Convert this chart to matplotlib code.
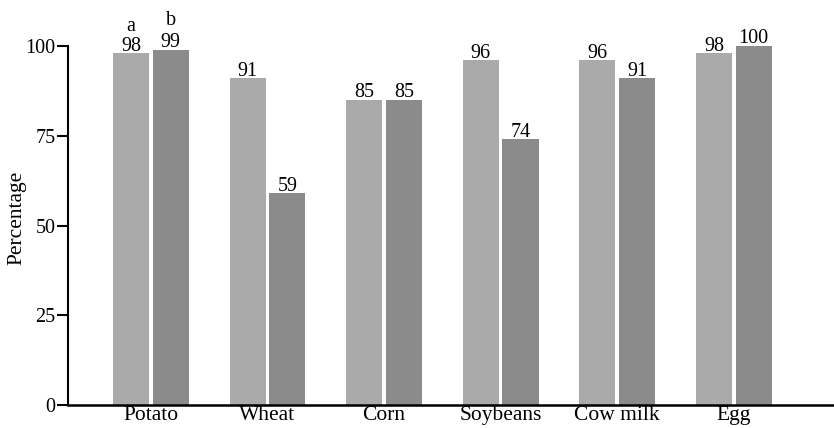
import matplotlib
matplotlib.use("Agg")
import matplotlib.pyplot as plt
import numpy as np

categories = ["Potato", "Wheat", "Corn", "Soybeans", "Cow milk", "Egg"]
series_a = [98, 91, 85, 96, 96, 98]
series_b = [99, 59, 85, 74, 91, 100]
series_tags = ["a", "b"]
y_ticks = [0, 25, 50, 75, 100]

plt.rcParams["font.family"] = ["Liberation Serif", "DejaVu Serif"]

fig = plt.figure(figsize=(8.34, 4.28), dpi=100)
ax = fig.add_axes([68 / 834, 1 - 405 / 428, 1 - 68 / 834, (405 - 46) / 428])

x = np.arange(len(categories))
w = 0.31
off = 0.17
light, dark = "#aaaaaa", "#8b8b8b"

bars_a = ax.bar(x - off, series_a, width=w, color=light, clip_on=False, zorder=2)
bars_b = ax.bar(x + off, series_b, width=w, color=dark, clip_on=False, zorder=2)

for bars, vals in ((bars_a, series_a), (bars_b, series_b)):
    for b, v in zip(bars, vals):
        ax.text(b.get_x() + b.get_width() / 2, v + 0.7, f"{v}",
                ha="center", va="baseline", fontsize=14.5)

# series tags above the first group
ax.text(bars_a[0].get_x() + w / 2, series_a[0] + 6.2, series_tags[0],
        ha="center", va="baseline", fontsize=14.5)
ax.text(bars_b[0].get_x() + w / 2, series_b[0] + 6.9, series_tags[1],
        ha="center", va="baseline", fontsize=14.5)

ax.set_xlim(-0.712, 5.86)
ax.set_ylim(0, 100)
ax.set_yticks(y_ticks)
ax.set_xticks(x)
ax.set_xticklabels(categories, fontsize=15.5)
ax.tick_params(axis="x", length=0, pad=1)
ax.tick_params(axis="y", length=8, width=1.5, pad=1, labelsize=14.5)
ax.set_ylabel("Percentage", fontsize=15.5)
ax.yaxis.set_label_coords(-0.054, 0.52)

for s in ("top", "right"):
    ax.spines[s].set_visible(False)
ax.spines["left"].set_linewidth(1.5)
ax.spines["bottom"].set_linewidth(1.8)

fig.savefig("out.png", dpi=100)
